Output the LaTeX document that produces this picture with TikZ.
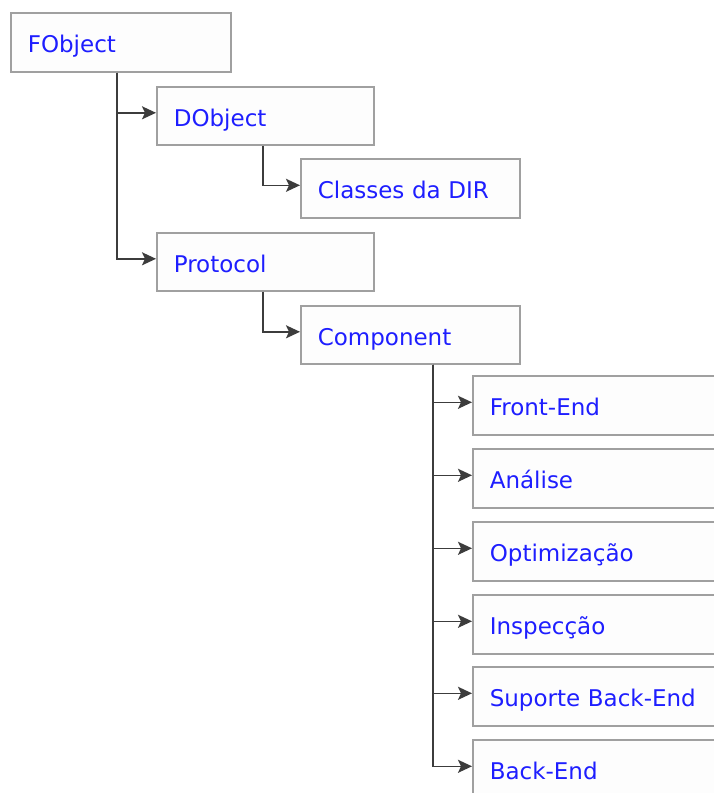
\documentclass[tikz,border=0pt]{standalone}
\usepackage{fontspec}
\setmainfont{DejaVu Sans}
\usetikzlibrary{arrows.meta}

\definecolor{boxline}{RGB}{160,160,160}
\definecolor{boxfill}{RGB}{253,253,253}
\definecolor{classblue}{RGB}{30,30,255}
\definecolor{linkgray}{RGB}{60,60,60}

\tikzset{
  classbox/.style={draw=boxline, fill=boxfill, line width=1.6pt, anchor=north west,
    minimum height=59pt, inner xsep=17pt, inner ysep=0pt, align=left,
    text height=21pt, text depth=0pt,
    text=classblue, font=\fontsize{23}{26}\selectfont},
  link/.style={draw=linkgray, line width=1.5pt, -{Stealth[length=14pt,width=13pt,inset=3pt]}}
}

\begin{document}
\begin{tikzpicture}[x=1pt,y=-1pt]
        \clip (0,0) rectangle (714,793);
        \fill[white] (0,0) rectangle (714,793);

        \node[classbox, text width=186pt] (fobject) at (10,12) {FObject};
        \node[classbox, text width=183pt, minimum height=58pt] (dobject) at (156,86) {DObject};
        \node[classbox, text width=185pt] (classesdir) at (300,158) {Classes da DIR};
        \node[classbox, text width=183pt, minimum height=58pt] (protocol) at (156,232) {Protocol};
        \node[classbox, text width=185pt, minimum height=58pt] (component) at (300,305) {Component};

        \node[classbox, text width=230pt] (frontend) at (472,375) {Front-End};
        \node[classbox, text width=230pt] (analise) at (472,448) {Análise};
        \node[classbox, text width=230pt] (optimizacao) at (472,521) {Optimização};
        \node[classbox, text width=230pt] (inspeccao) at (472,594) {Inspecção};
        \node[classbox, text width=230pt] (suporte) at (472,666) {Suporte Back-End};
        \node[classbox, text width=230pt] (backend) at (472,739) {Back-End};

        % links
        \draw[link] (fobject.south west) ++(107,0) |- ([yshift=3pt]dobject.west);
        \draw[link] (fobject.south west) ++(107,0) |- ([yshift=3pt]protocol.west);
        \draw[link] (dobject.south west) ++(107,0) |- ([yshift=3pt]classesdir.west);
        \draw[link] (protocol.south west) ++(107,0) |- ([yshift=3pt]component.west);
        \foreach \sub in {frontend,analise,optimizacao,inspeccao,suporte,backend}
            \draw[link] (component.south west) ++(133,0) |- ([yshift=3pt]\sub.west);

\end{tikzpicture}
\end{document}
